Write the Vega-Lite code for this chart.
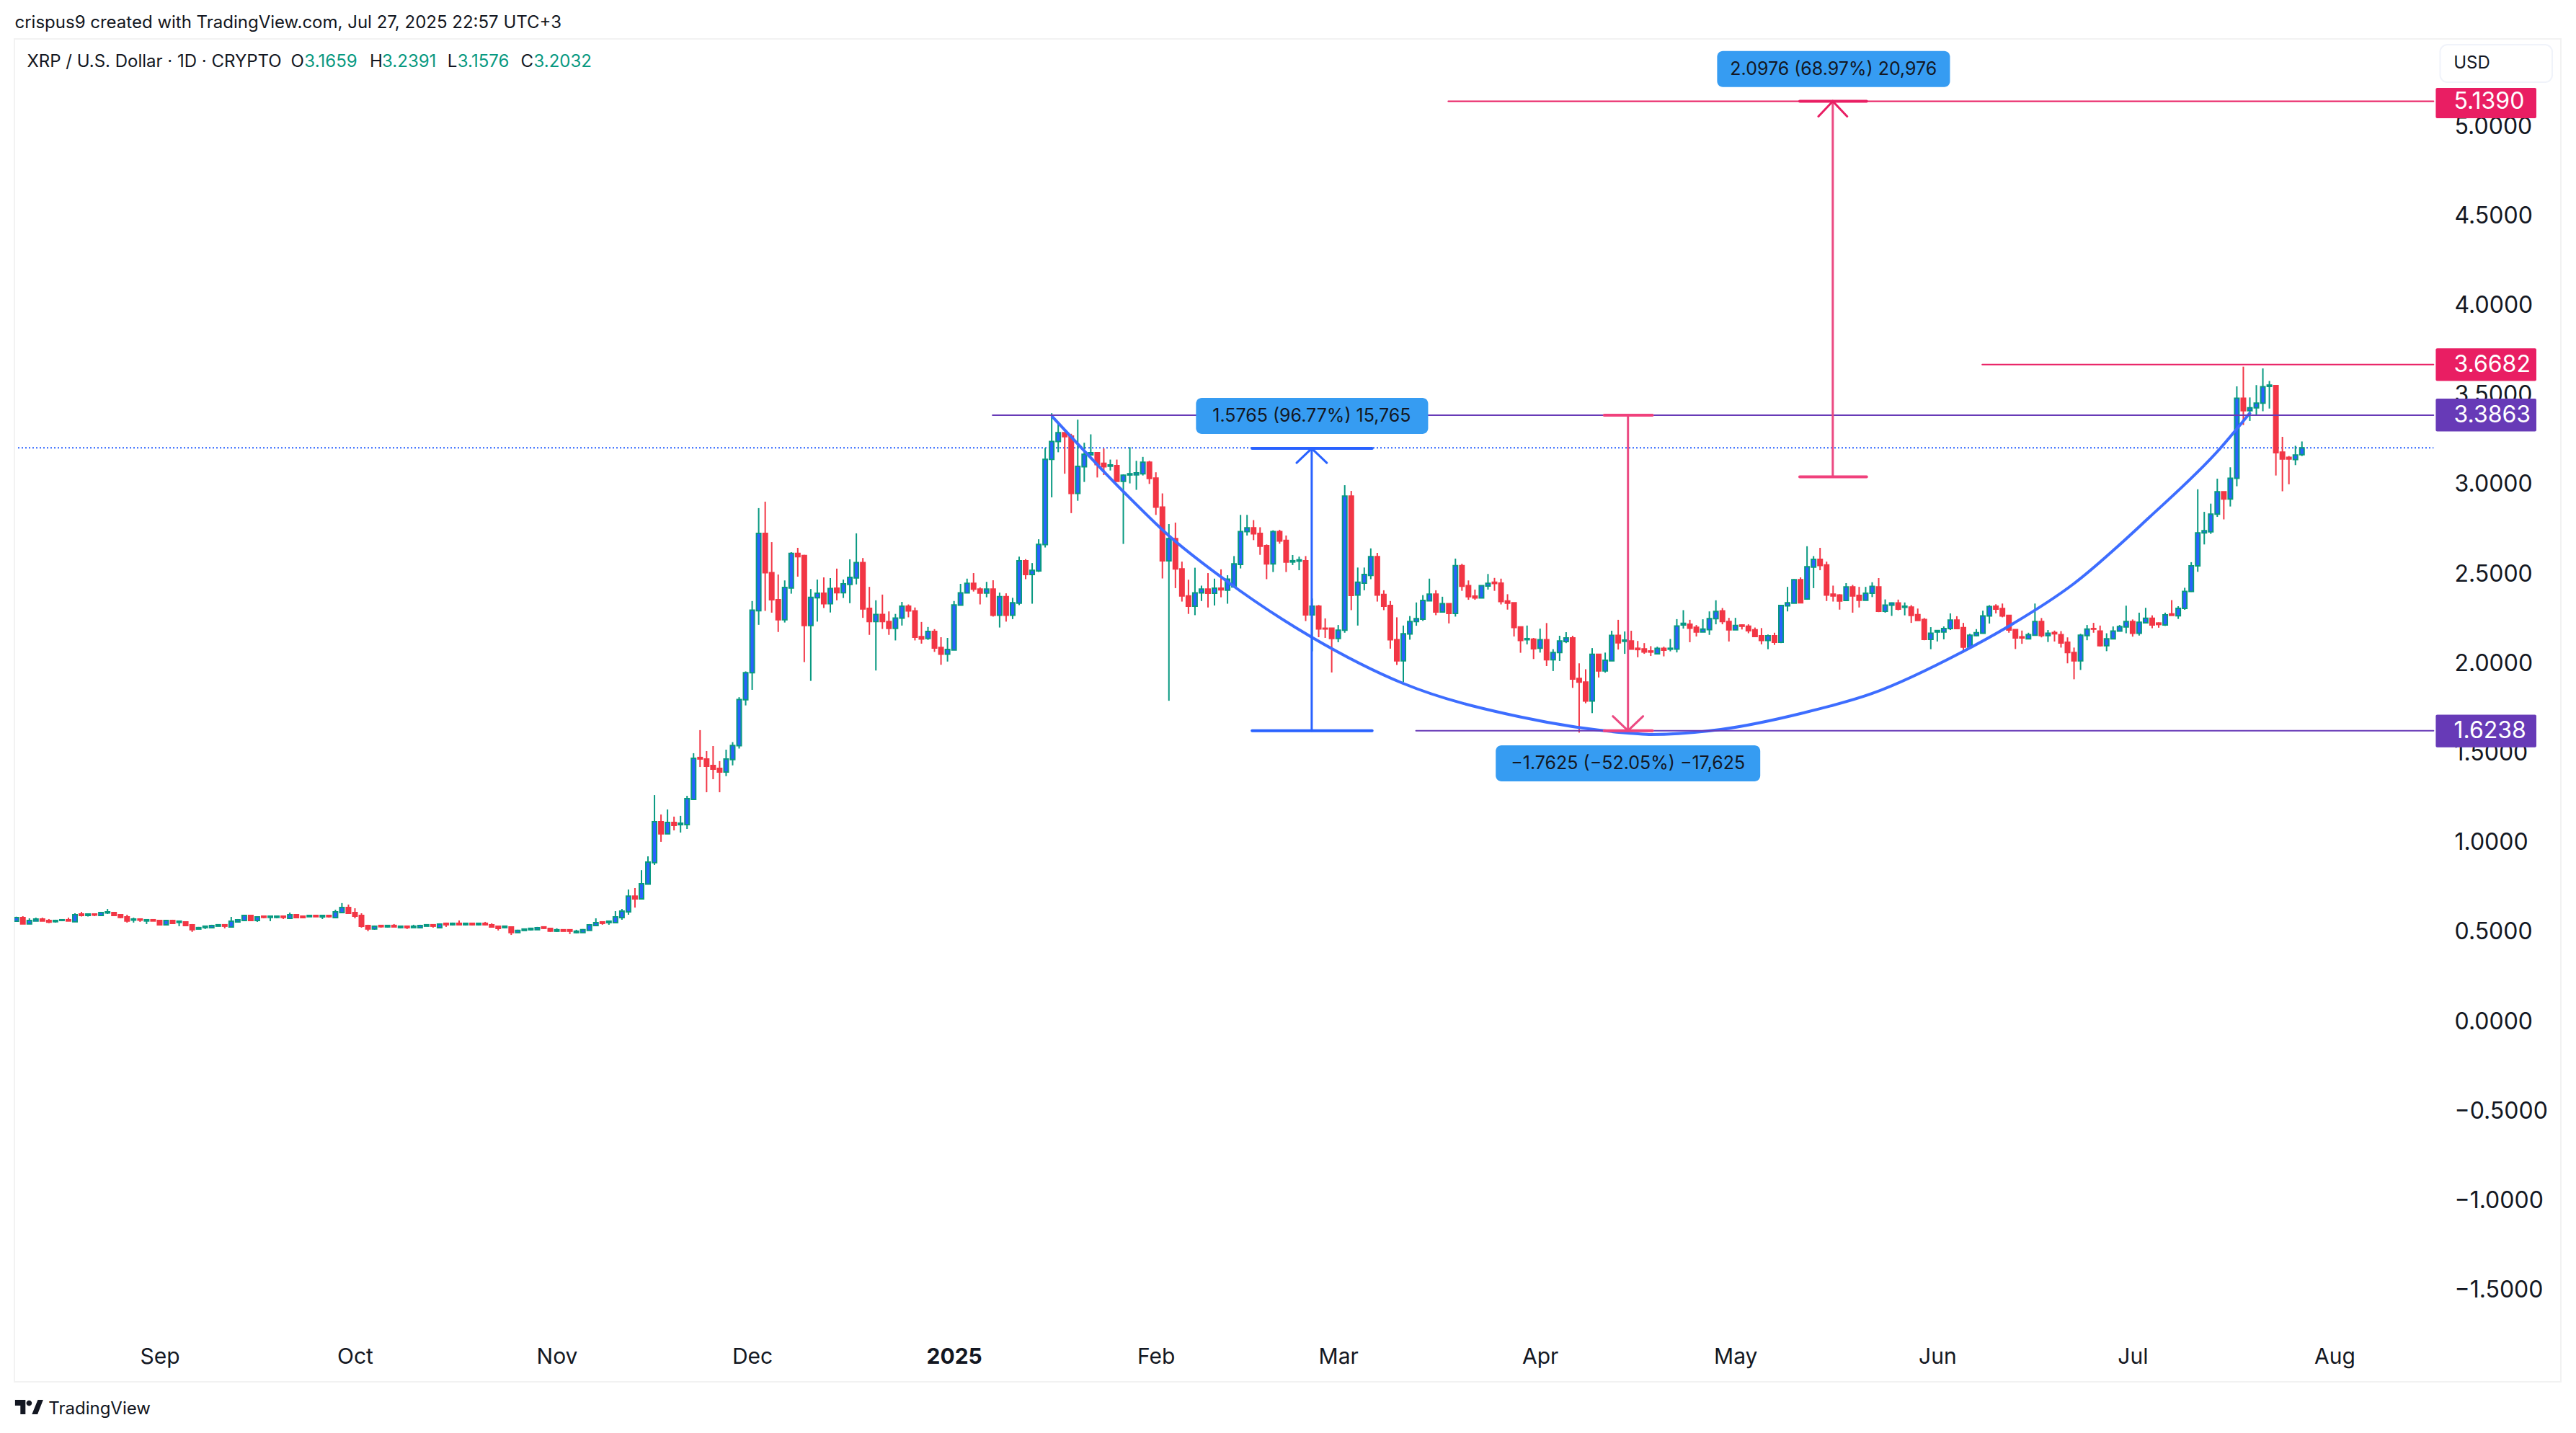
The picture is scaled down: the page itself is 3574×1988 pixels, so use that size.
{
"$schema":"https://vega.github.io/schema/vega-lite/v6.json",
"description":"XRP / U.S. Dollar daily candles with cup drawing and measure tools",
"autosize":{"type":"none"},
"padding":{"left":20,"top":54,"right":21,"bottom":71},
"width":3533,
"height":1863,
"background":"#ffffff",
"config":{"view":{"stroke":"#f2f2f2","strokeWidth":2},"font":"Inter"},
"datasets":{
"ohlc":[
{"t":"2024-08-10","o":0.56,"h":0.585,"l":0.56,"c":0.58},
{"t":"2024-08-11","o":0.58,"h":0.588,"l":0.545,"c":0.545},
{"t":"2024-08-12","o":0.545,"h":0.576,"l":0.545,"c":0.564},
{"t":"2024-08-13","o":0.561,"h":0.58,"l":0.561,"c":0.572},
{"t":"2024-08-14","o":0.572,"h":0.58,"l":0.561,"c":0.561},
{"t":"2024-08-15","o":0.564,"h":0.572,"l":0.549,"c":0.555},
{"t":"2024-08-16","o":0.557,"h":0.568,"l":0.552,"c":0.564},
{"t":"2024-08-17","o":0.564,"h":0.568,"l":0.561,"c":0.568},
{"t":"2024-08-18","o":0.568,"h":0.58,"l":0.561,"c":0.561},
{"t":"2024-08-19","o":0.557,"h":0.604,"l":0.557,"c":0.596},
{"t":"2024-08-20","o":0.6,"h":0.612,"l":0.586,"c":0.592},
{"t":"2024-08-21","o":0.592,"h":0.604,"l":0.586,"c":0.6},
{"t":"2024-08-22","o":0.6,"h":0.6,"l":0.588,"c":0.594},
{"t":"2024-08-23","o":0.592,"h":0.612,"l":0.588,"c":0.608},
{"t":"2024-08-24","o":0.606,"h":0.628,"l":0.6,"c":0.612},
{"t":"2024-08-25","o":0.608,"h":0.612,"l":0.592,"c":0.592},
{"t":"2024-08-26","o":0.596,"h":0.6,"l":0.576,"c":0.581},
{"t":"2024-08-27","o":0.584,"h":0.596,"l":0.552,"c":0.561},
{"t":"2024-08-28","o":0.566,"h":0.58,"l":0.552,"c":0.572},
{"t":"2024-08-29","o":0.572,"h":0.572,"l":0.556,"c":0.566},
{"t":"2024-08-30","o":0.561,"h":0.568,"l":0.544,"c":0.568},
{"t":"2024-08-31","o":0.568,"h":0.568,"l":0.561,"c":0.561},
{"t":"2024-09-01","o":0.564,"h":0.564,"l":0.54,"c":0.54},
{"t":"2024-09-02","o":0.54,"h":0.564,"l":0.54,"c":0.564},
{"t":"2024-09-03","o":0.564,"h":0.568,"l":0.548,"c":0.548},
{"t":"2024-09-04","o":0.553,"h":0.56,"l":0.532,"c":0.56},
{"t":"2024-09-05","o":0.556,"h":0.556,"l":0.536,"c":0.536},
{"t":"2024-09-06","o":0.54,"h":0.544,"l":0.5,"c":0.512},
{"t":"2024-09-07","o":0.516,"h":0.528,"l":0.516,"c":0.524},
{"t":"2024-09-08","o":0.524,"h":0.532,"l":0.516,"c":0.532},
{"t":"2024-09-09","o":0.524,"h":0.54,"l":0.524,"c":0.536},
{"t":"2024-09-10","o":0.532,"h":0.54,"l":0.532,"c":0.54},
{"t":"2024-09-11","o":0.54,"h":0.54,"l":0.52,"c":0.532},
{"t":"2024-09-12","o":0.528,"h":0.584,"l":0.528,"c":0.56},
{"t":"2024-09-13","o":0.556,"h":0.572,"l":0.552,"c":0.568},
{"t":"2024-09-14","o":0.564,"h":0.596,"l":0.564,"c":0.592},
{"t":"2024-09-15","o":0.592,"h":0.592,"l":0.564,"c":0.564},
{"t":"2024-09-16","o":0.564,"h":0.588,"l":0.556,"c":0.584},
{"t":"2024-09-17","o":0.588,"h":0.588,"l":0.576,"c":0.581},
{"t":"2024-09-18","o":0.581,"h":0.588,"l":0.56,"c":0.588},
{"t":"2024-09-19","o":0.581,"h":0.592,"l":0.576,"c":0.588},
{"t":"2024-09-20","o":0.588,"h":0.588,"l":0.572,"c":0.581},
{"t":"2024-09-21","o":0.576,"h":0.608,"l":0.576,"c":0.596},
{"t":"2024-09-22","o":0.596,"h":0.6,"l":0.576,"c":0.58},
{"t":"2024-09-23","o":0.588,"h":0.592,"l":0.576,"c":0.58},
{"t":"2024-09-24","o":0.585,"h":0.592,"l":0.584,"c":0.592},
{"t":"2024-09-25","o":0.592,"h":0.592,"l":0.585,"c":0.585},
{"t":"2024-09-26","o":0.584,"h":0.592,"l":0.572,"c":0.592},
{"t":"2024-09-27","o":0.592,"h":0.592,"l":0.58,"c":0.585},
{"t":"2024-09-28","o":0.58,"h":0.624,"l":0.58,"c":0.612},
{"t":"2024-09-29","o":0.608,"h":0.661,"l":0.604,"c":0.636},
{"t":"2024-09-30","o":0.636,"h":0.653,"l":0.604,"c":0.604},
{"t":"2024-10-01","o":0.608,"h":0.632,"l":0.576,"c":0.588},
{"t":"2024-10-02","o":0.592,"h":0.604,"l":0.524,"c":0.532},
{"t":"2024-10-03","o":0.536,"h":0.54,"l":0.504,"c":0.516},
{"t":"2024-10-04","o":0.516,"h":0.536,"l":0.512,"c":0.532},
{"t":"2024-10-05","o":0.536,"h":0.536,"l":0.524,"c":0.529},
{"t":"2024-10-06","o":0.528,"h":0.536,"l":0.524,"c":0.536},
{"t":"2024-10-07","o":0.536,"h":0.544,"l":0.528,"c":0.528},
{"t":"2024-10-08","o":0.524,"h":0.532,"l":0.52,"c":0.532},
{"t":"2024-10-09","o":0.532,"h":0.532,"l":0.516,"c":0.524},
{"t":"2024-10-10","o":0.524,"h":0.54,"l":0.524,"c":0.532},
{"t":"2024-10-11","o":0.524,"h":0.54,"l":0.524,"c":0.536},
{"t":"2024-10-12","o":0.532,"h":0.54,"l":0.532,"c":0.54},
{"t":"2024-10-13","o":0.54,"h":0.54,"l":0.524,"c":0.532},
{"t":"2024-10-14","o":0.524,"h":0.548,"l":0.524,"c":0.544},
{"t":"2024-10-15","o":0.548,"h":0.552,"l":0.528,"c":0.54},
{"t":"2024-10-16","o":0.54,"h":0.552,"l":0.536,"c":0.548},
{"t":"2024-10-17","o":0.548,"h":0.564,"l":0.54,"c":0.54},
{"t":"2024-10-18","o":0.54,"h":0.548,"l":0.536,"c":0.548},
{"t":"2024-10-19","o":0.548,"h":0.548,"l":0.536,"c":0.54},
{"t":"2024-10-20","o":0.54,"h":0.548,"l":0.536,"c":0.548},
{"t":"2024-10-21","o":0.548,"h":0.556,"l":0.536,"c":0.54},
{"t":"2024-10-22","o":0.54,"h":0.548,"l":0.528,"c":0.528},
{"t":"2024-10-23","o":0.532,"h":0.532,"l":0.508,"c":0.52},
{"t":"2024-10-24","o":0.524,"h":0.532,"l":0.52,"c":0.532},
{"t":"2024-10-25","o":0.528,"h":0.528,"l":0.483,"c":0.496},
{"t":"2024-10-26","o":0.496,"h":0.512,"l":0.496,"c":0.508},
{"t":"2024-10-27","o":0.508,"h":0.516,"l":0.508,"c":0.516},
{"t":"2024-10-28","o":0.512,"h":0.52,"l":0.508,"c":0.52},
{"t":"2024-10-29","o":0.512,"h":0.528,"l":0.512,"c":0.524},
{"t":"2024-10-30","o":0.528,"h":0.528,"l":0.516,"c":0.52},
{"t":"2024-10-31","o":0.52,"h":0.52,"l":0.5,"c":0.504},
{"t":"2024-11-01","o":0.504,"h":0.52,"l":0.5,"c":0.512},
{"t":"2024-11-02","o":0.512,"h":0.512,"l":0.504,"c":0.504},
{"t":"2024-11-03","o":0.512,"h":0.512,"l":0.488,"c":0.504},
{"t":"2024-11-04","o":0.496,"h":0.512,"l":0.492,"c":0.504},
{"t":"2024-11-05","o":0.496,"h":0.516,"l":0.496,"c":0.512},
{"t":"2024-11-06","o":0.508,"h":0.544,"l":0.508,"c":0.54},
{"t":"2024-11-07","o":0.536,"h":0.576,"l":0.536,"c":0.552},
{"t":"2024-11-08","o":0.556,"h":0.556,"l":0.54,"c":0.548},
{"t":"2024-11-09","o":0.552,"h":0.56,"l":0.54,"c":0.56},
{"t":"2024-11-10","o":0.552,"h":0.616,"l":0.552,"c":0.584},
{"t":"2024-11-11","o":0.58,"h":0.628,"l":0.568,"c":0.616},
{"t":"2024-11-12","o":0.612,"h":0.737,"l":0.596,"c":0.7},
{"t":"2024-11-13","o":0.7,"h":0.745,"l":0.636,"c":0.685},
{"t":"2024-11-14","o":0.685,"h":0.845,"l":0.681,"c":0.769},
{"t":"2024-11-15","o":0.767,"h":0.922,"l":0.767,"c":0.89},
{"t":"2024-11-16","o":0.887,"h":1.264,"l":0.874,"c":1.115},
{"t":"2024-11-17","o":1.115,"h":1.156,"l":1.003,"c":1.048},
{"t":"2024-11-18","o":1.048,"h":1.184,"l":1.048,"c":1.111},
{"t":"2024-11-19","o":1.111,"h":1.144,"l":1.067,"c":1.095},
{"t":"2024-11-20","o":1.099,"h":1.148,"l":1.055,"c":1.107},
{"t":"2024-11-21","o":1.099,"h":1.26,"l":1.075,"c":1.244},
{"t":"2024-11-22","o":1.24,"h":1.498,"l":1.24,"c":1.47},
{"t":"2024-11-23","o":1.474,"h":1.627,"l":1.421,"c":1.466},
{"t":"2024-11-24","o":1.466,"h":1.51,"l":1.28,"c":1.425},
{"t":"2024-11-25","o":1.429,"h":1.538,"l":1.353,"c":1.409},
{"t":"2024-11-26","o":1.413,"h":1.454,"l":1.28,"c":1.393},
{"t":"2024-11-27","o":1.393,"h":1.518,"l":1.37,"c":1.466},
{"t":"2024-11-28","o":1.463,"h":1.56,"l":1.43,"c":1.541},
{"t":"2024-11-29","o":1.54,"h":1.811,"l":1.524,"c":1.798},
{"t":"2024-11-30","o":1.797,"h":1.955,"l":1.765,"c":1.948},
{"t":"2024-12-01","o":1.948,"h":2.348,"l":1.852,"c":2.297},
{"t":"2024-12-02","o":2.294,"h":2.867,"l":2.215,"c":2.726},
{"t":"2024-12-03","o":2.726,"h":2.903,"l":2.293,"c":2.506},
{"t":"2024-12-04","o":2.506,"h":2.677,"l":2.283,"c":2.355},
{"t":"2024-12-05","o":2.355,"h":2.496,"l":2.175,"c":2.244},
{"t":"2024-12-06","o":2.244,"h":2.463,"l":2.228,"c":2.424},
{"t":"2024-12-07","o":2.421,"h":2.621,"l":2.389,"c":2.614},
{"t":"2024-12-08","o":2.614,"h":2.645,"l":2.484,"c":2.596},
{"t":"2024-12-09","o":2.602,"h":2.606,"l":2.007,"c":2.211},
{"t":"2024-12-10","o":2.211,"h":2.415,"l":1.902,"c":2.368},
{"t":"2024-12-11","o":2.366,"h":2.468,"l":2.233,"c":2.391},
{"t":"2024-12-12","o":2.391,"h":2.48,"l":2.309,"c":2.333},
{"t":"2024-12-13","o":2.333,"h":2.476,"l":2.284,"c":2.418},
{"t":"2024-12-14","o":2.42,"h":2.529,"l":2.352,"c":2.395},
{"t":"2024-12-15","o":2.395,"h":2.468,"l":2.365,"c":2.444},
{"t":"2024-12-16","o":2.441,"h":2.581,"l":2.336,"c":2.48},
{"t":"2024-12-17","o":2.477,"h":2.726,"l":2.441,"c":2.563},
{"t":"2024-12-18","o":2.563,"h":2.588,"l":2.254,"c":2.304},
{"t":"2024-12-19","o":2.307,"h":2.427,"l":2.159,"c":2.233},
{"t":"2024-12-20","o":2.233,"h":2.352,"l":1.96,"c":2.273},
{"t":"2024-12-21","o":2.273,"h":2.384,"l":2.192,"c":2.233},
{"t":"2024-12-22","o":2.233,"h":2.29,"l":2.159,"c":2.195},
{"t":"2024-12-23","o":2.195,"h":2.276,"l":2.128,"c":2.253},
{"t":"2024-12-24","o":2.253,"h":2.343,"l":2.211,"c":2.319},
{"t":"2024-12-25","o":2.319,"h":2.329,"l":2.257,"c":2.293},
{"t":"2024-12-26","o":2.293,"h":2.312,"l":2.128,"c":2.146},
{"t":"2024-12-27","o":2.149,"h":2.231,"l":2.11,"c":2.136},
{"t":"2024-12-28","o":2.139,"h":2.203,"l":2.131,"c":2.178},
{"t":"2024-12-29","o":2.178,"h":2.191,"l":2.064,"c":2.086},
{"t":"2024-12-30","o":2.089,"h":2.146,"l":1.992,"c":2.051},
{"t":"2024-12-31","o":2.051,"h":2.142,"l":2.01,"c":2.077},
{"t":"2025-01-01","o":2.074,"h":2.348,"l":2.074,"c":2.326},
{"t":"2025-01-02","o":2.325,"h":2.444,"l":2.325,"c":2.394},
{"t":"2025-01-03","o":2.394,"h":2.473,"l":2.394,"c":2.447},
{"t":"2025-01-04","o":2.447,"h":2.504,"l":2.401,"c":2.415},
{"t":"2025-01-05","o":2.415,"h":2.424,"l":2.329,"c":2.392},
{"t":"2025-01-06","o":2.392,"h":2.455,"l":2.369,"c":2.415},
{"t":"2025-01-07","o":2.415,"h":2.464,"l":2.261,"c":2.269},
{"t":"2025-01-08","o":2.269,"h":2.395,"l":2.2,"c":2.372},
{"t":"2025-01-09","o":2.372,"h":2.391,"l":2.233,"c":2.269},
{"t":"2025-01-10","o":2.269,"h":2.366,"l":2.247,"c":2.338},
{"t":"2025-01-11","o":2.336,"h":2.596,"l":2.325,"c":2.573},
{"t":"2025-01-12","o":2.573,"h":2.582,"l":2.47,"c":2.496},
{"t":"2025-01-13","o":2.496,"h":2.56,"l":2.333,"c":2.519},
{"t":"2025-01-14","o":2.516,"h":2.693,"l":2.51,"c":2.664},
{"t":"2025-01-15","o":2.663,"h":3.203,"l":2.647,"c":3.139},
{"t":"2025-01-16","o":3.139,"h":3.397,"l":2.927,"c":3.239},
{"t":"2025-01-17","o":3.239,"h":3.34,"l":3.179,"c":3.288},
{"t":"2025-01-18","o":3.288,"h":3.288,"l":3.059,"c":3.266},
{"t":"2025-01-19","o":3.269,"h":3.282,"l":2.839,"c":2.949},
{"t":"2025-01-20","o":2.949,"h":3.361,"l":2.908,"c":3.1},
{"t":"2025-01-21","o":3.098,"h":3.232,"l":3.013,"c":3.167},
{"t":"2025-01-22","o":3.164,"h":3.279,"l":3.16,"c":3.177},
{"t":"2025-01-23","o":3.177,"h":3.177,"l":3.038,"c":3.11},
{"t":"2025-01-24","o":3.117,"h":3.2,"l":3.052,"c":3.098},
{"t":"2025-01-25","o":3.101,"h":3.138,"l":3.077,"c":3.108},
{"t":"2025-01-26","o":3.104,"h":3.138,"l":3.016,"c":3.016},
{"t":"2025-01-27","o":3.016,"h":3.055,"l":2.667,"c":3.051},
{"t":"2025-01-28","o":3.052,"h":3.207,"l":3.005,"c":3.059},
{"t":"2025-01-29","o":3.053,"h":3.131,"l":2.969,"c":3.064},
{"t":"2025-01-30","o":3.059,"h":3.153,"l":3.049,"c":3.123},
{"t":"2025-01-31","o":3.123,"h":3.131,"l":3.002,"c":3.033},
{"t":"2025-02-01","o":3.035,"h":3.067,"l":2.829,"c":2.873},
{"t":"2025-02-02","o":2.873,"h":2.949,"l":2.474,"c":2.573},
{"t":"2025-02-03","o":2.573,"h":2.778,"l":1.791,"c":2.696},
{"t":"2025-02-04","o":2.696,"h":2.786,"l":2.42,"c":2.527},
{"t":"2025-02-05","o":2.527,"h":2.568,"l":2.345,"c":2.376},
{"t":"2025-02-06","o":2.376,"h":2.467,"l":2.276,"c":2.319},
{"t":"2025-02-07","o":2.319,"h":2.534,"l":2.269,"c":2.394},
{"t":"2025-02-08","o":2.394,"h":2.434,"l":2.348,"c":2.415},
{"t":"2025-02-09","o":2.415,"h":2.504,"l":2.312,"c":2.391},
{"t":"2025-02-10","o":2.391,"h":2.473,"l":2.323,"c":2.42},
{"t":"2025-02-11","o":2.42,"h":2.525,"l":2.369,"c":2.411},
{"t":"2025-02-12","o":2.409,"h":2.492,"l":2.333,"c":2.47},
{"t":"2025-02-13","o":2.427,"h":2.599,"l":2.427,"c":2.556},
{"t":"2025-02-14","o":2.553,"h":2.829,"l":2.53,"c":2.736},
{"t":"2025-02-15","o":2.736,"h":2.829,"l":2.714,"c":2.757},
{"t":"2025-02-16","o":2.757,"h":2.8,"l":2.688,"c":2.724},
{"t":"2025-02-17","o":2.726,"h":2.76,"l":2.606,"c":2.654},
{"t":"2025-02-18","o":2.657,"h":2.664,"l":2.47,"c":2.556},
{"t":"2025-02-19","o":2.556,"h":2.743,"l":2.51,"c":2.736},
{"t":"2025-02-20","o":2.736,"h":2.746,"l":2.668,"c":2.683},
{"t":"2025-02-21","o":2.686,"h":2.714,"l":2.51,"c":2.566},
{"t":"2025-02-22","o":2.566,"h":2.605,"l":2.549,"c":2.573},
{"t":"2025-02-23","o":2.571,"h":2.596,"l":2.52,"c":2.578},
{"t":"2025-02-24","o":2.573,"h":2.599,"l":2.236,"c":2.271},
{"t":"2025-02-25","o":2.271,"h":2.362,"l":2.067,"c":2.319},
{"t":"2025-02-26","o":2.319,"h":2.326,"l":2.146,"c":2.192},
{"t":"2025-02-27","o":2.196,"h":2.251,"l":2.142,"c":2.192},
{"t":"2025-02-28","o":2.196,"h":2.196,"l":1.949,"c":2.139},
{"t":"2025-03-01","o":2.139,"h":2.214,"l":2.118,"c":2.185},
{"t":"2025-03-02","o":2.185,"h":2.995,"l":2.171,"c":2.934},
{"t":"2025-03-03","o":2.934,"h":2.963,"l":2.297,"c":2.379},
{"t":"2025-03-04","o":2.381,"h":2.535,"l":2.211,"c":2.453},
{"t":"2025-03-05","o":2.448,"h":2.535,"l":2.408,"c":2.496},
{"t":"2025-03-06","o":2.491,"h":2.642,"l":2.47,"c":2.596},
{"t":"2025-03-07","o":2.596,"h":2.617,"l":2.345,"c":2.381},
{"t":"2025-03-08","o":2.384,"h":2.408,"l":2.297,"c":2.319},
{"t":"2025-03-09","o":2.323,"h":2.348,"l":2.082,"c":2.132},
{"t":"2025-03-10","o":2.132,"h":2.257,"l":1.991,"c":2.014},
{"t":"2025-03-11","o":2.014,"h":2.211,"l":1.895,"c":2.165},
{"t":"2025-03-12","o":2.164,"h":2.264,"l":2.132,"c":2.233},
{"t":"2025-03-13","o":2.233,"h":2.34,"l":2.21,"c":2.25},
{"t":"2025-03-14","o":2.247,"h":2.381,"l":2.237,"c":2.351},
{"t":"2025-03-15","o":2.349,"h":2.473,"l":2.349,"c":2.386},
{"t":"2025-03-16","o":2.386,"h":2.408,"l":2.269,"c":2.287},
{"t":"2025-03-17","o":2.287,"h":2.372,"l":2.287,"c":2.333},
{"t":"2025-03-18","o":2.333,"h":2.333,"l":2.223,"c":2.279},
{"t":"2025-03-19","o":2.279,"h":2.585,"l":2.261,"c":2.545},
{"t":"2025-03-20","o":2.545,"h":2.556,"l":2.405,"c":2.431},
{"t":"2025-03-21","o":2.434,"h":2.463,"l":2.355,"c":2.372},
{"t":"2025-03-22","o":2.375,"h":2.412,"l":2.355,"c":2.365},
{"t":"2025-03-23","o":2.365,"h":2.434,"l":2.365,"c":2.434},
{"t":"2025-03-24","o":2.432,"h":2.499,"l":2.412,"c":2.447},
{"t":"2025-03-25","o":2.453,"h":2.477,"l":2.405,"c":2.446},
{"t":"2025-03-26","o":2.448,"h":2.473,"l":2.329,"c":2.345},
{"t":"2025-03-27","o":2.348,"h":2.386,"l":2.3,"c":2.336},
{"t":"2025-03-28","o":2.338,"h":2.338,"l":2.15,"c":2.2},
{"t":"2025-03-29","o":2.203,"h":2.203,"l":2.059,"c":2.128},
{"t":"2025-03-30","o":2.132,"h":2.211,"l":2.106,"c":2.138},
{"t":"2025-03-31","o":2.135,"h":2.142,"l":2.024,"c":2.082},
{"t":"2025-04-01","o":2.085,"h":2.194,"l":2.06,"c":2.132},
{"t":"2025-04-02","o":2.132,"h":2.225,"l":1.985,"c":2.02},
{"t":"2025-04-03","o":2.02,"h":2.079,"l":1.957,"c":2.06},
{"t":"2025-04-04","o":2.06,"h":2.154,"l":2.013,"c":2.125},
{"t":"2025-04-05","o":2.122,"h":2.174,"l":2.113,"c":2.142},
{"t":"2025-04-06","o":2.142,"h":2.154,"l":1.863,"c":1.912},
{"t":"2025-04-07","o":1.915,"h":2.0,"l":1.613,"c":1.895},
{"t":"2025-04-08","o":1.895,"h":1.967,"l":1.777,"c":1.79},
{"t":"2025-04-09","o":1.79,"h":2.085,"l":1.722,"c":2.05},
{"t":"2025-04-10","o":2.05,"h":2.053,"l":1.921,"c":1.958},
{"t":"2025-04-11","o":1.958,"h":2.06,"l":1.948,"c":2.017},
{"t":"2025-04-12","o":2.014,"h":2.182,"l":2.014,"c":2.156},
{"t":"2025-04-13","o":2.156,"h":2.243,"l":2.077,"c":2.115},
{"t":"2025-04-14","o":2.123,"h":2.178,"l":2.053,"c":2.13},
{"t":"2025-04-15","o":2.125,"h":2.182,"l":2.079,"c":2.079},
{"t":"2025-04-16","o":2.084,"h":2.125,"l":2.034,"c":2.077},
{"t":"2025-04-17","o":2.08,"h":2.113,"l":2.053,"c":2.063},
{"t":"2025-04-18","o":2.069,"h":2.096,"l":2.041,"c":2.063},
{"t":"2025-04-19","o":2.053,"h":2.093,"l":2.053,"c":2.084},
{"t":"2025-04-20","o":2.084,"h":2.093,"l":2.039,"c":2.073},
{"t":"2025-04-21","o":2.079,"h":2.136,"l":2.067,"c":2.084},
{"t":"2025-04-22","o":2.079,"h":2.247,"l":2.061,"c":2.208},
{"t":"2025-04-23","o":2.214,"h":2.297,"l":2.194,"c":2.223},
{"t":"2025-04-24","o":2.218,"h":2.243,"l":2.118,"c":2.196},
{"t":"2025-04-25","o":2.201,"h":2.214,"l":2.15,"c":2.175},
{"t":"2025-04-26","o":2.175,"h":2.246,"l":2.174,"c":2.191},
{"t":"2025-04-27","o":2.188,"h":2.29,"l":2.159,"c":2.25},
{"t":"2025-04-28","o":2.25,"h":2.352,"l":2.218,"c":2.29},
{"t":"2025-04-29","o":2.293,"h":2.309,"l":2.218,"c":2.233},
{"t":"2025-04-30","o":2.233,"h":2.254,"l":2.122,"c":2.187},
{"t":"2025-05-01","o":2.187,"h":2.254,"l":2.187,"c":2.211},
{"t":"2025-05-02","o":2.214,"h":2.218,"l":2.189,"c":2.207},
{"t":"2025-05-03","o":2.207,"h":2.218,"l":2.168,"c":2.182},
{"t":"2025-05-04","o":2.187,"h":2.2,"l":2.15,"c":2.15},
{"t":"2025-05-05","o":2.154,"h":2.197,"l":2.106,"c":2.128},
{"t":"2025-05-06","o":2.128,"h":2.161,"l":2.079,"c":2.154},
{"t":"2025-05-07","o":2.154,"h":2.171,"l":2.103,"c":2.118},
{"t":"2025-05-08","o":2.118,"h":2.326,"l":2.113,"c":2.323},
{"t":"2025-05-09","o":2.321,"h":2.427,"l":2.29,"c":2.338},
{"t":"2025-05-10","o":2.336,"h":2.47,"l":2.336,"c":2.467},
{"t":"2025-05-11","o":2.467,"h":2.48,"l":2.338,"c":2.338},
{"t":"2025-05-12","o":2.359,"h":2.654,"l":2.355,"c":2.539},
{"t":"2025-05-13","o":2.537,"h":2.599,"l":2.42,"c":2.581},
{"t":"2025-05-14","o":2.581,"h":2.645,"l":2.52,"c":2.546},
{"t":"2025-05-15","o":2.549,"h":2.568,"l":2.348,"c":2.381},
{"t":"2025-05-16","o":2.386,"h":2.434,"l":2.345,"c":2.376},
{"t":"2025-05-17","o":2.381,"h":2.386,"l":2.3,"c":2.348},
{"t":"2025-05-18","o":2.351,"h":2.448,"l":2.348,"c":2.427},
{"t":"2025-05-19","o":2.427,"h":2.438,"l":2.283,"c":2.376},
{"t":"2025-05-20","o":2.379,"h":2.427,"l":2.312,"c":2.352},
{"t":"2025-05-21","o":2.352,"h":2.427,"l":2.352,"c":2.391},
{"t":"2025-05-22","o":2.391,"h":2.453,"l":2.37,"c":2.43},
{"t":"2025-05-23","o":2.427,"h":2.476,"l":2.286,"c":2.291},
{"t":"2025-05-24","o":2.291,"h":2.357,"l":2.283,"c":2.325},
{"t":"2025-05-25","o":2.325,"h":2.34,"l":2.265,"c":2.337},
{"t":"2025-05-26","o":2.337,"h":2.356,"l":2.296,"c":2.303},
{"t":"2025-05-27","o":2.313,"h":2.34,"l":2.268,"c":2.319},
{"t":"2025-05-28","o":2.314,"h":2.325,"l":2.226,"c":2.268},
{"t":"2025-05-29","o":2.272,"h":2.306,"l":2.24,"c":2.24},
{"t":"2025-05-30","o":2.245,"h":2.253,"l":2.129,"c":2.134},
{"t":"2025-05-31","o":2.134,"h":2.202,"l":2.079,"c":2.168},
{"t":"2025-06-01","o":2.175,"h":2.186,"l":2.122,"c":2.183},
{"t":"2025-06-02","o":2.175,"h":2.206,"l":2.134,"c":2.194},
{"t":"2025-06-03","o":2.194,"h":2.279,"l":2.186,"c":2.242},
{"t":"2025-06-04","o":2.242,"h":2.263,"l":2.194,"c":2.194},
{"t":"2025-06-05","o":2.199,"h":2.226,"l":2.06,"c":2.091},
{"t":"2025-06-06","o":2.091,"h":2.165,"l":2.088,"c":2.157},
{"t":"2025-06-07","o":2.155,"h":2.191,"l":2.152,"c":2.171},
{"t":"2025-06-08","o":2.168,"h":2.294,"l":2.168,"c":2.265},
{"t":"2025-06-09","o":2.265,"h":2.325,"l":2.222,"c":2.317},
{"t":"2025-06-10","o":2.319,"h":2.33,"l":2.279,"c":2.303},
{"t":"2025-06-11","o":2.306,"h":2.334,"l":2.257,"c":2.265},
{"t":"2025-06-12","o":2.268,"h":2.268,"l":2.171,"c":2.186},
{"t":"2025-06-13","o":2.188,"h":2.188,"l":2.08,"c":2.142},
{"t":"2025-06-14","o":2.148,"h":2.183,"l":2.109,"c":2.142},
{"t":"2025-06-15","o":2.137,"h":2.171,"l":2.134,"c":2.16},
{"t":"2025-06-16","o":2.157,"h":2.334,"l":2.157,"c":2.233},
{"t":"2025-06-17","o":2.233,"h":2.253,"l":2.145,"c":2.155},
{"t":"2025-06-18","o":2.155,"h":2.186,"l":2.119,"c":2.168},
{"t":"2025-06-19","o":2.172,"h":2.183,"l":2.122,"c":2.165},
{"t":"2025-06-20","o":2.16,"h":2.18,"l":2.088,"c":2.114},
{"t":"2025-06-21","o":2.118,"h":2.145,"l":2.0,"c":2.06},
{"t":"2025-06-22","o":2.06,"h":2.088,"l":1.911,"c":2.014},
{"t":"2025-06-23","o":2.014,"h":2.165,"l":1.963,"c":2.157},
{"t":"2025-06-24","o":2.155,"h":2.214,"l":2.129,"c":2.191},
{"t":"2025-06-25","o":2.194,"h":2.226,"l":2.171,"c":2.191},
{"t":"2025-06-26","o":2.18,"h":2.211,"l":2.094,"c":2.099},
{"t":"2025-06-27","o":2.099,"h":2.168,"l":2.068,"c":2.137},
{"t":"2025-06-28","o":2.137,"h":2.206,"l":2.134,"c":2.18},
{"t":"2025-06-29","o":2.18,"h":2.214,"l":2.18,"c":2.205},
{"t":"2025-06-30","o":2.203,"h":2.322,"l":2.168,"c":2.233},
{"t":"2025-07-01","o":2.233,"h":2.245,"l":2.149,"c":2.168},
{"t":"2025-07-02","o":2.168,"h":2.283,"l":2.155,"c":2.229},
{"t":"2025-07-03","o":2.226,"h":2.31,"l":2.226,"c":2.252},
{"t":"2025-07-04","o":2.252,"h":2.268,"l":2.196,"c":2.214},
{"t":"2025-07-05","o":2.225,"h":2.229,"l":2.199,"c":2.217},
{"t":"2025-07-06","o":2.214,"h":2.283,"l":2.209,"c":2.271},
{"t":"2025-07-07","o":2.276,"h":2.353,"l":2.268,"c":2.268},
{"t":"2025-07-08","o":2.266,"h":2.319,"l":2.248,"c":2.307},
{"t":"2025-07-09","o":2.307,"h":2.422,"l":2.299,"c":2.402},
{"t":"2025-07-10","o":2.402,"h":2.565,"l":2.399,"c":2.544},
{"t":"2025-07-11","o":2.544,"h":2.972,"l":2.511,"c":2.729},
{"t":"2025-07-12","o":2.729,"h":2.846,"l":2.664,"c":2.741},
{"t":"2025-07-13","o":2.735,"h":2.892,"l":2.723,"c":2.833},
{"t":"2025-07-14","o":2.833,"h":3.031,"l":2.818,"c":2.958},
{"t":"2025-07-15","o":2.958,"h":2.958,"l":2.804,"c":2.918},
{"t":"2025-07-16","o":2.918,"h":3.095,"l":2.876,"c":3.034},
{"t":"2025-07-17","o":3.034,"h":3.547,"l":2.989,"c":3.48},
{"t":"2025-07-18","o":3.48,"h":3.657,"l":3.331,"c":3.411},
{"t":"2025-07-19","o":3.411,"h":3.485,"l":3.354,"c":3.427},
{"t":"2025-07-20","o":3.427,"h":3.554,"l":3.388,"c":3.453},
{"t":"2025-07-21","o":3.453,"h":3.647,"l":3.408,"c":3.545},
{"t":"2025-07-22","o":3.547,"h":3.577,"l":3.423,"c":3.554},
{"t":"2025-07-23","o":3.551,"h":3.551,"l":3.049,"c":3.177},
{"t":"2025-07-24","o":3.18,"h":3.265,"l":2.961,"c":3.141},
{"t":"2025-07-25","o":3.15,"h":3.158,"l":3.0,"c":3.141},
{"t":"2025-07-26","o":3.138,"h":3.215,"l":3.107,"c":3.163},
{"t":"2025-07-27","o":3.1659,"h":3.2391,"l":3.1576,"c":3.2032}
],
"curve":[
{"t":"2025-01-15T23:31:00Z","p":3.3819},
{"t":"2025-01-27T00:14:00Z","p":2.9592},
{"t":"2025-02-02T23:17:00Z","p":2.7136},
{"t":"2025-02-11T16:34:00Z","p":2.464},
{"t":"2025-02-24T22:19:00Z","p":2.146},
{"t":"2025-03-10T22:48:00Z","p":1.8883},
{"t":"2025-03-29T01:26:00Z","p":1.7},
{"t":"2025-04-14T12:00:00Z","p":1.6105},
{"t":"2025-04-17T22:05:00Z","p":1.6025},
{"t":"2025-04-28T17:31:00Z","p":1.6307},
{"t":"2025-05-11T10:19:00Z","p":1.7233},
{"t":"2025-05-22T00:29:00Z","p":1.832},
{"t":"2025-06-04T17:02:00Z","p":2.0614},
{"t":"2025-06-11T13:12:00Z","p":2.1983},
{"t":"2025-06-21T22:19:00Z","p":2.4439},
{"t":"2025-07-03T12:29:00Z","p":2.8142},
{"t":"2025-07-14T10:48:00Z","p":3.2007},
{"t":"2025-07-19T02:10:00Z","p":3.402}
],
"last":[
{"t":"2024-08-10T06:09:00Z","p":3.2032},
{"t":"2025-08-16T05:00:00Z","p":3.2032}
],
"segs":[
{"id":"l1","k":"level_purple","t":"2025-01-06T22:05:00Z","p":3.3863},
{"id":"l1","k":"level_purple","t":"2025-08-16T05:00:00Z","p":3.3863},
{"id":"l2","k":"level_purple","t":"2025-03-12T22:33:00Z","p":1.6238},
{"id":"l2","k":"level_purple","t":"2025-08-16T05:00:00Z","p":1.6238},
{"id":"l3","k":"level_red","t":"2025-03-17T21:36:00Z","p":5.139},
{"id":"l3","k":"level_red","t":"2025-08-16T05:00:00Z","p":5.139},
{"id":"l4","k":"level_red","t":"2025-06-07T21:36:00Z","p":3.6682},
{"id":"l4","k":"level_red","t":"2025-08-16T05:00:00Z","p":3.6682},
{"id":"b1","k":"range_blue","t":"2025-02-24T22:19:00Z","p":3.2003},
{"id":"b1","k":"range_blue","t":"2025-02-24T22:19:00Z","p":1.6238},
{"id":"b2","k":"range_blue","t":"2025-02-22T14:38:00Z","p":3.1198},
{"id":"b2","k":"range_blue","t":"2025-02-24T22:19:00Z","p":3.2003},
{"id":"b2","k":"range_blue","t":"2025-02-27T06:00:00Z","p":3.1198},
{"id":"b3","k":"cap_blue","t":"2025-02-15T18:29:00Z","p":3.2003},
{"id":"b3","k":"cap_blue","t":"2025-03-06T05:00:00Z","p":3.2003},
{"id":"b4","k":"cap_blue","t":"2025-02-15T18:29:00Z","p":1.6238},
{"id":"b4","k":"cap_blue","t":"2025-03-06T05:00:00Z","p":1.6238},
{"id":"d1","k":"range_pink","t":"2025-04-14T12:00:00Z","p":3.3863},
{"id":"d1","k":"range_pink","t":"2025-04-14T12:00:00Z","p":1.6238},
{"id":"d2","k":"range_pink","t":"2025-04-12T04:19:00Z","p":1.7043},
{"id":"d2","k":"range_pink","t":"2025-04-14T12:00:00Z","p":1.6238},
{"id":"d2","k":"range_pink","t":"2025-04-16T19:41:00Z","p":1.7043},
{"id":"d3","k":"cap_pink","t":"2025-04-10T20:24:00Z","p":3.3863},
{"id":"d3","k":"cap_pink","t":"2025-04-18T06:00:00Z","p":3.3863},
{"id":"d4","k":"cap_pink","t":"2025-04-10T20:24:00Z","p":1.6238},
{"id":"d4","k":"cap_pink","t":"2025-04-18T06:00:00Z","p":1.6238},
{"id":"u1","k":"range_pink","t":"2025-05-15T22:48:00Z","p":3.0414},
{"id":"u1","k":"range_pink","t":"2025-05-15T22:48:00Z","p":5.139},
{"id":"u2","k":"range_red","t":"2025-05-13T18:00:00Z","p":5.0545},
{"id":"u2","k":"range_red","t":"2025-05-15T22:48:00Z","p":5.139},
{"id":"u2","k":"range_red","t":"2025-05-18T03:36:00Z","p":5.0545},
{"id":"u3","k":"cap_pink","t":"2025-05-10T21:07:00Z","p":3.0414},
{"id":"u3","k":"cap_pink","t":"2025-05-21T03:22:00Z","p":3.0414},
{"id":"u4","k":"cap_red","t":"2025-05-10T21:07:00Z","p":5.139},
{"id":"u4","k":"cap_red","t":"2025-05-21T03:22:00Z","p":5.139}
],
"tags":[
{"k":"level_red","t":"2025-08-16T13:12:00Z","t2":"2025-09-01T00:00:00Z","p":5.2136,"p2":5.0444},
{"k":"level_red","t":"2025-08-16T13:12:00Z","t2":"2025-09-01T00:00:00Z","p":3.7591,"p2":3.5771},
{"k":"level_purple","t":"2025-08-16T13:12:00Z","t2":"2025-09-01T00:00:00Z","p":3.4785,"p2":3.2953},
{"k":"level_purple","t":"2025-08-16T13:12:00Z","t2":"2025-09-01T00:00:00Z","p":1.7132,"p2":1.5312}
],
"tagText":[
{"label":"5.1390","t":"2025-08-19T07:45:00Z","p":5.139},
{"label":"3.6682","t":"2025-08-19T07:45:00Z","p":3.6682},
{"label":"3.3863","t":"2025-08-19T07:45:00Z","p":3.3863},
{"label":"1.6238","t":"2025-08-19T07:45:00Z","p":1.6238}
],
"pills":[
{"t":"2025-04-28T04:34:00Z","t2":"2025-06-02T22:48:00Z","p":5.4201,"p2":5.2188},
{"t":"2025-02-07T03:50:00Z","t2":"2025-03-14T19:26:00Z","p":3.4825,"p2":3.2812},
{"t":"2025-03-25T04:34:00Z","t2":"2025-05-04T19:26:00Z","p":1.5421,"p2":1.3408}
],
"pillText":[
{"label":"2.0976 (68.97%) 20,976","t":"2025-05-16T01:26:00Z","p":5.3195},
{"label":"1.5765 (96.77%) 15,765","t":"2025-02-24T22:19:00Z","p":3.3819},
{"label":"−1.7625 (−52.05%) −17,625","t":"2025-04-14T12:00:00Z","p":1.4414}
],
"usd":[
{"t":"2025-08-17T05:17:00Z","t2":"2025-09-03T10:33:00Z","p":5.4551,"p2":5.2457}
],
"notes":[
{"s":"dark","text":"crispus9 created with TradingView.com, Jul 27, 2025 22:57 UTC+3","t":"2024-08-09T18:09:00Z","p":5.5759},
{"s":"dark","text":"XRP / U.S. Dollar · 1D · CRYPTO","t":"2024-08-11T15:07:00Z","p":5.3585},
{"s":"dark","text":"O","t":"2024-09-21T03:21:00Z","p":5.3585},
{"s":"green","text":"3.1659","t":"2024-09-23T05:45:00Z","p":5.3585},
{"s":"dark","text":"H","t":"2024-10-03T06:43:00Z","p":5.3585},
{"s":"green","text":"3.2391","t":"2024-10-05T03:50:00Z","p":5.3585},
{"s":"dark","text":"L","t":"2024-10-15T04:48:00Z","p":5.3585},
{"s":"green","text":"3.1576","t":"2024-10-16T18:00:00Z","p":5.3585},
{"s":"dark","text":"C","t":"2024-10-26T11:02:00Z","p":5.3585},
{"s":"green","text":"3.2032","t":"2024-10-28T10:48:00Z","p":5.3585},
{"s":"dark","text":"USD","t":"2025-08-19T07:12:00Z","p":5.3503},
{"s":"dark","text":"TradingView","t":"2024-08-14T22:33:00Z","p":-2.1656}
],
"logo":[
{"t":"2024-08-11T23:02:00Z","p":-2.1536}
]
},
"encoding":{
"x":{"field":"t","type":"temporal","title":null,
"scale":{"type":"utc","domain":["2024-08-10T06:09:00Z","2025-09-04T05:02:00Z"],"nice":false},
"axis":{"orient":"bottom","offset":-35,"title":null,"grid":false,"domain":false,"ticks":false,"labelPadding":0,"labelBaseline":"middle","labelFont":"Inter","labelFontSize":30,"labelColor":"#131722","labelOverlap":false,"labelFlush":false,"labelBound":false,
"values":[{"year":2024,"month":"sep","date":1,"utc":true},{"year":2024,"month":"oct","date":1,"utc":true},{"year":2024,"month":"nov","date":1,"utc":true},{"year":2024,"month":"dec","date":1,"utc":true},{"year":2025,"month":"jan","date":1,"utc":true},{"year":2025,"month":"feb","date":1,"utc":true},{"year":2025,"month":"mar","date":1,"utc":true},{"year":2025,"month":"apr","date":1,"utc":true},{"year":2025,"month":"may","date":1,"utc":true},{"year":2025,"month":"jun","date":1,"utc":true},{"year":2025,"month":"jul","date":1,"utc":true},{"year":2025,"month":"aug","date":1,"utc":true}],
"labelExpr":"utcFormat(datum.value,'%b')=='Jan' ? '2025' : utcFormat(datum.value,'%b')",
"labelFontWeight":{"condition":{"test":"utcFormat(datum.value,'%b')=='Jan'","value":"bold"},"value":"normal"}}},
"y":{"field":"p","type":"quantitative","title":null,
"scale":{"domain":[-2.0127,5.4873],"nice":false,"zero":false},
"axis":{"orient":"right","offset":-148,"title":null,"grid":false,"domain":false,"ticks":false,"labelPadding":0,"labelAlign":"left","labelBaseline":"middle","labelFont":"Inter","labelFontSize":32,"labelColor":"#131722","labelOverlap":false,"labelFlush":false,"labelBound":false,
"values":[-1.5,-1,-0.5,0,0.5,1,1.5,2,2.5,3,3.5,4,4.5,5],
"labelExpr":"replace(format(datum.value,'.4f'),'-','−')"}}
},
"layer":[
{
"data":{"name":"last"},
"mark":{"type":"line","color":"#2962ff","strokeWidth":2,"strokeDash":[2,3]}
},
{
"data":{"name":"ohlc"},
"mark":{"type":"rule","strokeWidth":2,"clip":true},
"encoding":{
"y":{"field":"l","type":"quantitative","title":null,"scale":{"domain":[-2.0127,5.4873],"nice":false,"zero":false}},
"y2":{"field":"h"},
"color":{"condition":{"test":"datum.c>=datum.o","value":"#089981"},"value":"#f23645"}
}
},
{
"data":{"name":"ohlc"},
"mark":{"type":"bar","size":6,"strokeWidth":2,"orient":"vertical","clip":true},
"encoding":{
"y":{"field":"o","type":"quantitative","title":null,"scale":{"domain":[-2.0127,5.4873],"nice":false,"zero":false}},
"y2":{"field":"c"},
"fill":{"condition":{"test":"datum.c>=datum.o","value":"#2962ff"},"value":"#f23645"},
"stroke":{"condition":{"test":"datum.c>=datum.o","value":"#089981"},"value":"#f23645"}
}
},
{
"data":{"name":"curve"},
"mark":{"type":"line","color":"#3d6dff","strokeWidth":4,"interpolate":"monotone"}
},
{
"data":{"name":"segs"},
"mark":{"type":"line","strokeCap":"round"},
"encoding":{
"detail":{"field":"id"},
"color":{"field":"k","type":"nominal","legend":null,"scale":{"domain":["level_purple","level_red","range_blue","cap_blue","range_pink","cap_pink","range_red","cap_red"],"range":["#673ab7","#e91e63","#2962ff","#2962ff","#ec4a82","#f0417c","#e91e63","#e91e63"]}},
"strokeWidth":{"field":"k","type":"nominal","legend":null,"scale":{"type":"ordinal","domain":["level_purple","level_red","range_blue","cap_blue","range_pink","cap_pink","range_red","cap_red"],"range":[2,2,3,4,3,4,3,4]}}
}
},
{
"data":{"name":"usd"},
"mark":{"type":"rect","fill":"#ffffff","stroke":"#f0f3fa","strokeWidth":2,"cornerRadius":10},
"encoding":{"x2":{"field":"t2"},"y2":{"field":"p2"}}
},
{
"data":{"name":"tags"},
"mark":{"type":"rect","cornerRadius":2},
"encoding":{
"x2":{"field":"t2"},
"y2":{"field":"p2"},
"color":{"field":"k","type":"nominal","legend":null,"scale":{"domain":["level_purple","level_red","range_blue","cap_blue","range_pink","cap_pink","range_red","cap_red"],"range":["#673ab7","#e91e63","#2962ff","#2962ff","#ec4a82","#f0417c","#e91e63","#e91e63"]}}
}
},
{
"data":{"name":"tagText"},
"mark":{"type":"text","align":"left","baseline":"middle","font":"Inter","fontSize":32,"color":"#ffffff"},
"encoding":{"text":{"field":"label"}}
},
{
"data":{"name":"pills"},
"mark":{"type":"rect","fill":"#369cf2","cornerRadius":8},
"encoding":{"x2":{"field":"t2"},"y2":{"field":"p2"}}
},
{
"data":{"name":"pillText"},
"mark":{"type":"text","align":"center","baseline":"middle","font":"Inter","fontSize":25,"color":"#131722"},
"encoding":{"text":{"field":"label"}}
},
{
"data":{"name":"notes"},
"mark":{"type":"text","align":"left","baseline":"middle","font":"Inter","fontSize":24},
"encoding":{
"text":{"field":"text"},
"color":{"condition":{"test":"datum.s=='green'","value":"#089981"},"value":"#131722"}
}
},
{
"data":{"name":"logo"},
"mark":{"type":"point","filled":true,"opacity":1,"color":"#131722","size":1521,"shape":"M-1,-.51 H-.26 V.51 H-.62 V-.1 H-1 Z M-.2,-.28 A.2,.2 0 1 0 .2,-.28 A.2,.2 0 1 0 -.2,-.28 Z M.62,-.51 H1 L.6,.51 H.2 Z"}
}
]
}
